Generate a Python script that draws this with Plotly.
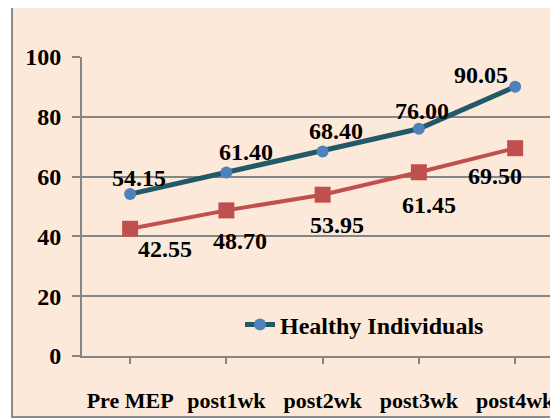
import plotly.graph_objects as go

categories = ["Pre MEP", "post1wk", "post2wk", "post3wk", "post4wk"]
healthy = [54.15, 61.40, 68.40, 76.00, 90.05]
patients = [42.55, 48.70, 53.95, 61.45, 69.50]
healthy_labels = ["54.15", "61.40", "68.40", "76.00", "90.05"]
patient_labels = ["42.55", "48.70", "53.95", "61.45", "69.50"]
y_ticks = [0, 20, 40, 60, 80, 100]

# label offsets (pixels) relative to points
healthy_off = [(9, 16), (20, 20), (13, 20), (3, 18), (-34, 12)]
patient_off = [(35, -20), (14, -31), (14, -30), (10, -33), (-20, -28)]

FONT = "Liberation Serif, Times New Roman, serif"
OFF = 8  # page body margin
W, H = 558 - OFF, 419 - OFF
L, T, B = 82 - OFF, 57 - OFF, 356 - OFF
R = W
pw, ph = R - L, B - T

fig = go.Figure()
fig.add_trace(go.Scatter(
    x=list(range(len(categories))), y=healthy, mode="lines+markers",
    name="Healthy Individuals",
    line=dict(color="#215968", width=5),
    marker=dict(color="#4F81BD", size=12, symbol="circle"),
))
fig.add_trace(go.Scatter(
    x=list(range(len(categories))), y=patients, mode="lines+markers",
    name="Patients", showlegend=False,
    line=dict(color="#C0504D", width=4),
    marker=dict(color="#C0504D", size=16, symbol="square"),
))

ann = []
for i, (v, t) in enumerate(zip(healthy, healthy_labels)):
    dx, dy = healthy_off[i]
    ann.append(dict(x=i, y=v, text=t, showarrow=False, xshift=dx, yshift=dy,
                    font=dict(family=FONT, size=24, color="black", weight="bold")))
for i, (v, t) in enumerate(zip(patients, patient_labels)):
    dx, dy = patient_off[i]
    ann.append(dict(x=i, y=v, text=t, showarrow=False, xshift=dx, yshift=dy,
                    font=dict(family=FONT, size=24, color="black", weight="bold")))

# outer chart frame (screen coords 12..562 x 4..417)
shapes = [dict(type="rect", xref="paper", yref="paper",
               x0=(12 - OFF - L) / pw, x1=(570 - OFF - L) / pw,
               y0=(B - (417 - OFF)) / ph, y1=(B - (4 - OFF)) / ph,
               fillcolor="#FDE9D9", line=dict(color="#8C8C8C", width=2),
               layer="below")]

fig.update_layout(
    width=W, height=H,
    margin=dict(l=L, r=W - R, t=T, b=H - B, pad=0, autoexpand=False),
    paper_bgcolor="white",
    plot_bgcolor="#EBF1DE",
    font=dict(family=FONT, size=22, color="black"),
    annotations=ann,
    shapes=shapes,
    showlegend=True,
    legend=dict(x=(240 - OFF - L) / pw, y=(B - (325 - OFF)) / ph,
                xanchor="left", yanchor="middle",
                bgcolor="rgba(0,0,0,0)",
                font=dict(family=FONT, size=24, color="black", weight="bold")),
)
fig.update_xaxes(
    tickmode="array", tickvals=list(range(len(categories))), ticktext=categories,
    range=[-0.5, -0.5 + pw / 96.25],
    showgrid=False, zeroline=False,
    showline=True, linecolor="#868686", linewidth=2,
    ticks="outside", ticklen=6, tickcolor="#868686", tickwidth=2,
    tickson="boundaries", ticklabelstandoff=18, automargin=False,
    tickfont=dict(family=FONT, size=22, color="black", weight="bold"),
)
fig.update_yaxes(
    range=[0, 100], tickvals=y_ticks,
    showgrid=True, gridcolor="#868686", gridwidth=1.5,
    zeroline=False,
    showline=True, linecolor="#868686", linewidth=2,
    ticks="outside", ticklen=8, tickcolor="#868686", tickwidth=2,
    ticklabelstandoff=6, automargin=False,
    tickfont=dict(family=FONT, size=24, color="black", weight="bold"),
)

fig.write_html("out.html")
